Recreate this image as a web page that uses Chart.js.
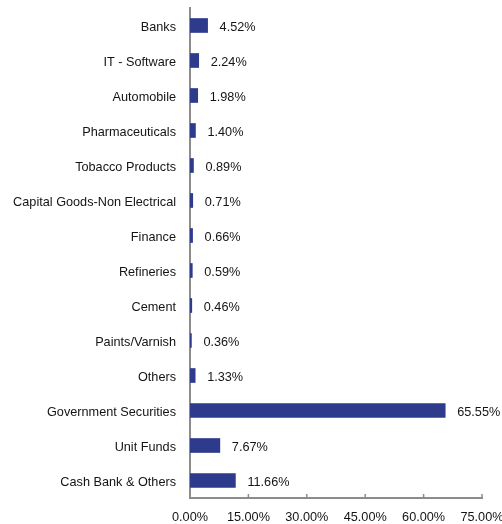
<!DOCTYPE html>
<html>
<head>
<meta charset="utf-8">
<script src="https://cdn.jsdelivr.net/npm/chart.js@4.4.1/dist/chart.umd.min.js"></script>
<style>
  html, body { margin: 0; padding: 0; background: #fff; }
  #wrap { width: 502px; height: 524px; }
</style>
</head>
<body>
<div id="wrap"><canvas id="chart"></canvas></div>
<script>
const categories = [
    'Banks', 'IT - Software', 'Automobile', 'Pharmaceuticals', 'Tobacco Products',
    'Capital Goods-Non Electrical', 'Finance', 'Refineries', 'Cement', 'Paints/Varnish',
    'Others', 'Government Securities', 'Unit Funds', 'Cash Bank & Others'
];
const weights = [4.52, 2.24, 1.98, 1.40, 0.89, 0.71, 0.66, 0.59, 0.46, 0.36, 1.33, 65.55, 7.67, 11.66];
const xTicks = [0, 15, 30, 45, 60, 75];

const barColor = '#2e3a8c';
const axisColor = '#8c8c8c';
const textColor = '#141414';
const font = { family: 'Liberation Sans, Arial, sans-serif', size: 12.7 };

// value labels after each bar
const valueLabels = {
    id: 'valueLabels',
    afterDatasetsDraw(chart) {
        const ctx = chart.ctx;
        const meta = chart.getDatasetMeta(0);
        ctx.save();
        ctx.font = `${font.size}px ${font.family}`;
        ctx.fillStyle = textColor;
        ctx.textAlign = 'left';
        ctx.textBaseline = 'middle';
        meta.data.forEach((bar, i) => {
            ctx.fillText(weights[i].toFixed(2) + '%', bar.x + 12, bar.y + 2);
        });
        ctx.restore();
    }
};

// small tick marks pointing up from the x axis
const upTicks = {
    id: 'upTicks',
    afterDraw(chart) {
        const ctx = chart.ctx;
        const x = chart.scales.x;
        ctx.save();
        ctx.strokeStyle = axisColor;
        ctx.lineWidth = 1.5;
        xTicks.forEach(v => {
            const px = x.getPixelForValue(v);
            ctx.beginPath();
            ctx.moveTo(px, x.top);
            ctx.lineTo(px, x.top - 4);
            ctx.stroke();
        });
        ctx.restore();
    }
};

new Chart(document.getElementById('chart'), {
    type: 'bar',
    data: {
        labels: categories,
        datasets: [{
            data: weights,
            backgroundColor: barColor,
            barThickness: 14
        }]
    },
    options: {
        indexAxis: 'y',
        responsive: true,
        maintainAspectRatio: false,
        animation: false,
        layout: { padding: { top: 8, right: 20, left: 0, bottom: 0 } },
        plugins: {
            legend: { display: false },
            tooltip: { enabled: false }
        },
        scales: {
            x: {
                min: 0,
                max: 75,
                afterBuildTicks(axis) {
                    axis.ticks = xTicks.map(v => ({ value: v }));
                },
                afterFit(axis) {
                    axis.height = 26;
                    axis.paddingLeft = 0;
                    axis.paddingRight = 0;
                },
                grid: { display: false, drawTicks: false },
                border: { display: true, color: axisColor, width: 2 },
                ticks: {
                    color: textColor,
                    font: font,
                    padding: 12,
                    maxRotation: 0,
                    autoSkip: false,
                    callback: v => v.toFixed(2) + '%'
                }
            },
            y: {
                afterFit(axis) {
                    axis.width = 190;
                    axis.paddingTop = 0;
                    axis.paddingBottom = 0;
                },
                grid: { display: false, drawTicks: false },
                border: { display: true, color: axisColor, width: 2 },
                ticks: {
                    color: textColor,
                    font: font,
                    padding: 14,
                    labelOffset: 2,
                    autoSkip: false
                }
            }
        }
    },
    plugins: [valueLabels, upTicks]
});
</script>
</body>
</html>
